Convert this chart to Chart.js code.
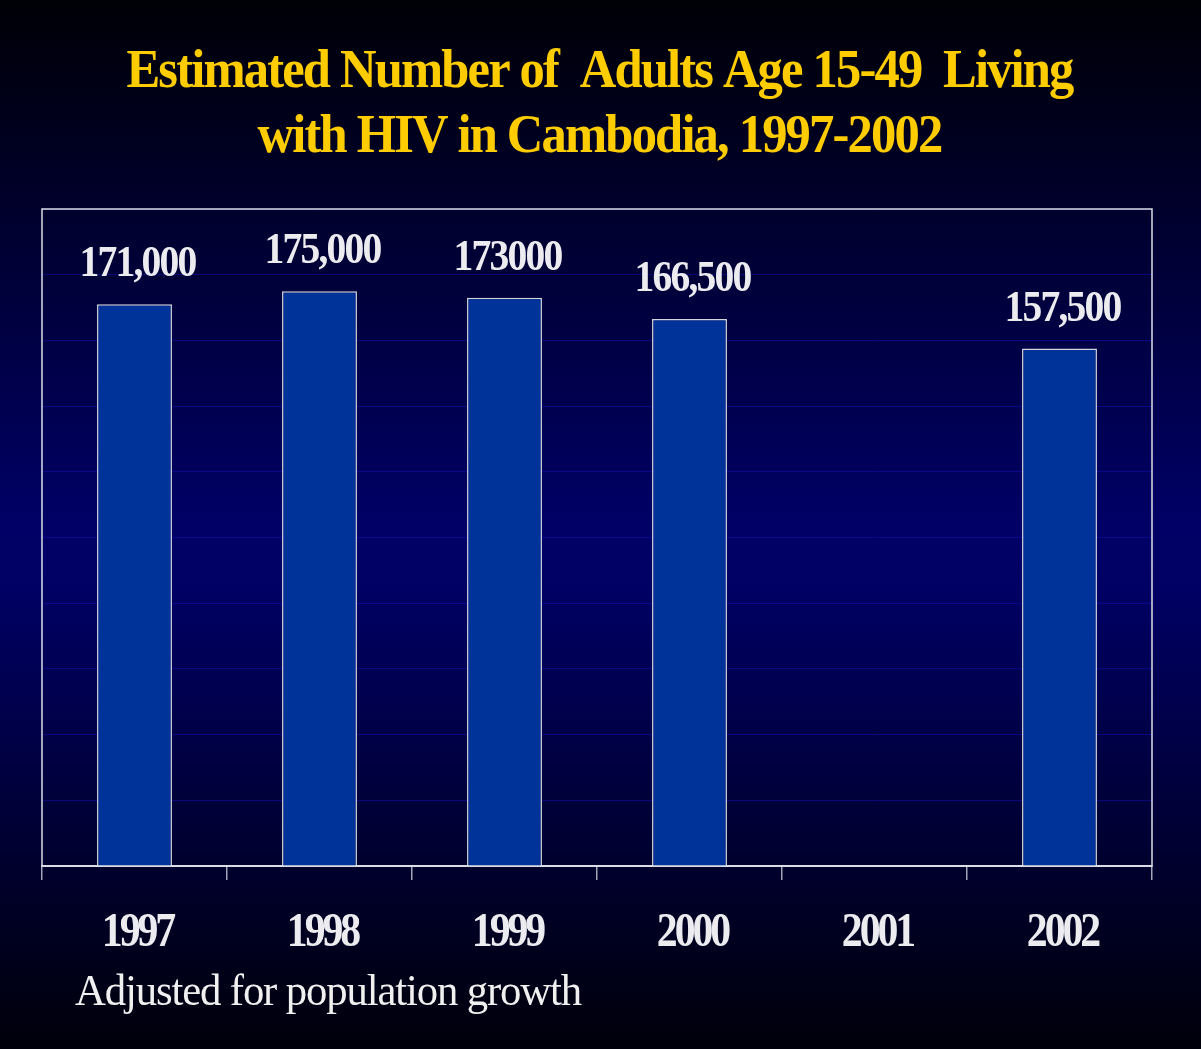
<!DOCTYPE html>
<html lang="en">
<head>
  <meta charset="UTF-8" />
  <title>Estimated Number of Adults Age 15-49 Living with HIV in Cambodia, 1997-2002</title>
  <style>
    html, body {
      margin: 0;
      padding: 0;
      background: #000010;
      overflow: hidden;
    }
    #chart {
      display: block;
    }
  </style>
  <script src="https://cdn.jsdelivr.net/npm/chart.js"></script>
</head>
<body>
  <canvas id="chart" width="1201" height="1049"></canvas>

  <script>
    // data
    const years = ['1997', '1998', '1999', '2000', '2001', '2002'];
    const adultsWithHiv = [171000, 175000, 173000, 166500, null, 157500];
    const valueLabels = ['171,000', '175,000', '173000', '166,500', '', '157,500'];
    const titleLines = ['Estimated Number of  Adults Age 15-49  Living', 'with HIV in Cambodia, 1997-2002'];
    const footNote = 'Adjusted for population growth';

    const SERIF = '"Liberation Serif", "Times New Roman", serif';

    // the slide's type is set very tight: a little horizontal squeeze plus negative tracking
    function tightText(ctx, text, x, y, font, color, sx, spacing, align) {
      ctx.save();
      ctx.font = font;
      ctx.fillStyle = color;
      ctx.textAlign = align;
      ctx.textBaseline = 'alphabetic';
      if ('letterSpacing' in ctx) ctx.letterSpacing = spacing + 'px';
      ctx.translate(x, y);
      ctx.scale(sx, 1);
      ctx.fillText(text, 0, 0);
      ctx.restore();
    }

    const slideBackground = {
      id: 'slideBackground',
      beforeDraw(chart) {
        const { ctx, width, height } = chart;
        const g = ctx.createLinearGradient(0, 0, 0, height);
        g.addColorStop(0, '#000006');
        g.addColorStop(0.5, '#000066');
        g.addColorStop(0.56, '#000064');
        g.addColorStop(1, '#00000a');
        ctx.save();
        ctx.fillStyle = g;
        ctx.fillRect(0, 0, width, height);
        ctx.restore();
      }
    };

    const plotFrame = {
      id: 'plotFrame',
      beforeDatasetsDraw(chart) {
        const { ctx, chartArea: a } = chart;
        ctx.save();
        ctx.strokeStyle = '#dcdce6';
        ctx.lineWidth = 1.5;
        ctx.strokeRect(a.left, a.top, a.right - a.left, a.bottom - a.top);
        ctx.restore();
      }
    };

    const slideText = {
      id: 'slideText',
      afterDraw(chart) {
        const { ctx } = chart;
        const xScale = chart.scales.x;
        const cx = chart.width / 2;

        tightText(ctx, titleLines[0], cx - 1, 87, 'bold 55px ' + SERIF, '#ffcc00', 0.92, -2, 'center');
        tightText(ctx, titleLines[1], cx - 1, 152, 'bold 55px ' + SERIF, '#ffcc00', 0.92, -2, 'center');

        const meta = chart.getDatasetMeta(0);
        meta.data.forEach((bar, i) => {
          if (adultsWithHiv[i] == null) return;
          tightText(ctx, valueLabels[i], bar.x + 3, bar.y - 28, 'bold 44px ' + SERIF, '#ececf0', 0.9, -2, 'center');
        });

        years.forEach((y, i) => {
          tightText(ctx, y, xScale.getPixelForValue(i) + 3, 946, 'bold 48px ' + SERIF, '#ececf0', 0.87, -3.5, 'center');
        });

        tightText(ctx, footNote, 75, 1005, '45px ' + SERIF, '#f0f0f0', 0.95, -1.2, 'left');
      }
    };

    const ctx = document.getElementById('chart').getContext('2d');

    new Chart(ctx, {
      type: 'bar',
      data: {
        labels: years,
        datasets: [{
          label: 'Adults 15-49 living with HIV',
          data: adultsWithHiv,
          backgroundColor: '#003399',
          borderColor: '#d4d4e0',
          borderWidth: 1.5,
          categoryPercentage: 1,
          barPercentage: 0.405
        }]
      },
      options: {
        responsive: false,
        animation: false,
        layout: {
          padding: { top: 209, left: 42, right: 49, bottom: 169 }
        },
        plugins: {
          legend: { display: false },
          title: { display: false },
          tooltip: { enabled: false }
        },
        scales: {
          x: {
            ticks: { display: false },
            grid: {
              offset: true,
              drawOnChartArea: false,
              drawTicks: true,
              tickLength: 14,
              color: '#a4a4b8',
              lineWidth: 1.5
            },
            border: { display: true, color: '#dcdce4', width: 2 }
          },
          y: {
            min: 0,
            max: 200000,
            ticks: { display: false, stepSize: 20000 },
            grid: {
              drawTicks: false,
              color: 'rgba(20, 20, 190, 0.45)',
              lineWidth: 1
            },
            border: { display: false }
          }
        }
      },
      plugins: [slideBackground, plotFrame, slideText]
    });
  </script>
</body>
</html>
